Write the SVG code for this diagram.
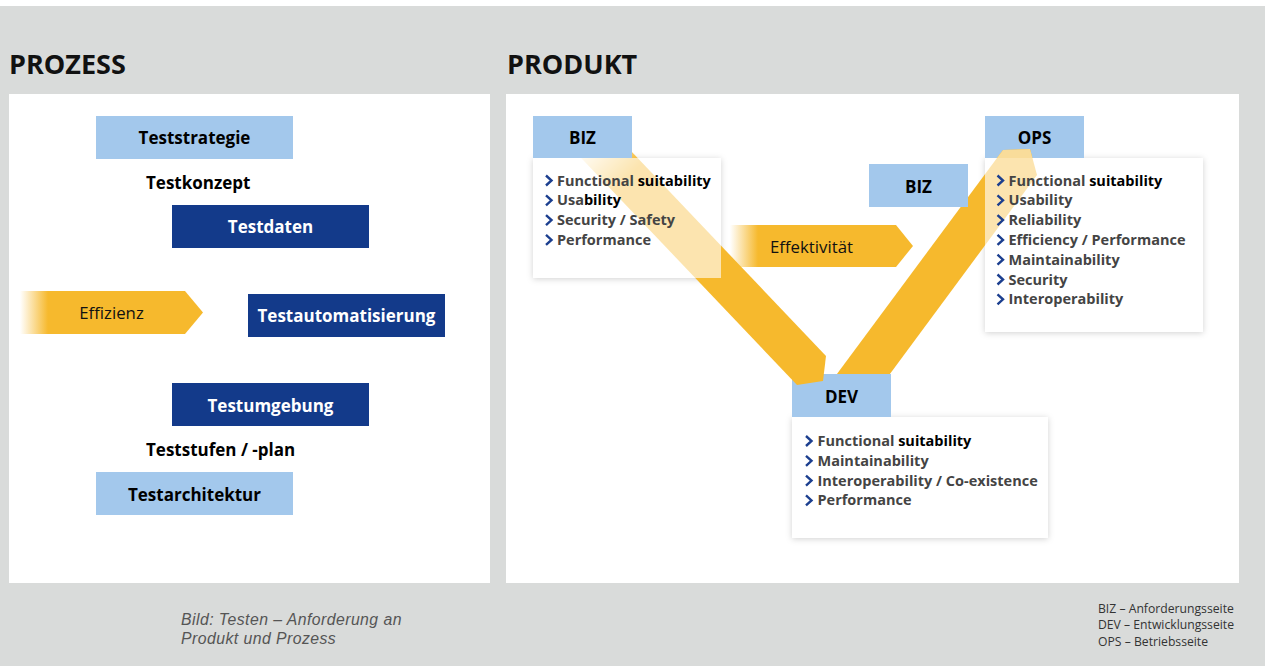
<svg xmlns="http://www.w3.org/2000/svg" width="1265" height="666" viewBox="0 0 1265 666">
<style>
.title{font-family:"Open Sans","Noto Sans",sans-serif;font-weight:700;font-size:27px;fill:#111}
.node{font-family:"Open Sans","Noto Sans",sans-serif;font-weight:700;font-size:17px;fill:#000;text-anchor:middle}
.nodew{font-family:"Open Sans","Noto Sans",sans-serif;font-weight:700;font-size:17px;fill:#fff;text-anchor:middle}
.plain{font-family:"Open Sans","Noto Sans",sans-serif;font-weight:700;font-size:17px;fill:#000}
.arrowt{font-family:"Open Sans","Noto Sans",sans-serif;font-size:16.8px;fill:#111}
.li{font-family:"Open Sans","Noto Sans",sans-serif;font-weight:700;font-size:14.5px;fill:#444}
.blk{fill:#000}
.light{fill:#a3c8ec}
.dark{fill:#133a8a}
.cap{font-family:"Liberation Sans",Arial,sans-serif;font-style:italic;font-size:15.8px;letter-spacing:0.45px;fill:#555}
.leg{font-family:"Open Sans","Noto Sans",sans-serif;font-size:12.2px;fill:#333}
.chev{fill:none;stroke:#1c3f8f;stroke-width:2.4}
.ov{fill:#fff;fill-opacity:0.62}
.card{fill:#fff;filter:url(#sh)}
</style>
<defs>
<filter id="sh" x="-10%" y="-10%" width="120%" height="130%">
<feDropShadow dx="0" dy="1" stdDeviation="3" flood-color="#000" flood-opacity="0.18"/>
</filter>
<linearGradient id="g1" gradientUnits="userSpaceOnUse" x1="20" y1="0" x2="48" y2="0">
<stop offset="0" stop-color="#f6b92d" stop-opacity="0"/>
<stop offset="1" stop-color="#f6b92d"/>
</linearGradient>
<linearGradient id="g2" gradientUnits="userSpaceOnUse" x1="730" y1="0" x2="758" y2="0">
<stop offset="0" stop-color="#f6b92d" stop-opacity="0"/>
<stop offset="1" stop-color="#f6b92d"/>
</linearGradient>
<linearGradient id="g3" gradientUnits="userSpaceOnUse" x1="580" y1="145" x2="620" y2="185">
<stop offset="0" stop-color="#f6b92d" stop-opacity="0"/>
<stop offset="1" stop-color="#f6b92d"/>
</linearGradient>
<path id="cv" class="chev" d="M0,-10 L5.5,-5 L0,0"/>
</defs>

<rect x="0" y="0" width="1265" height="666" fill="#fff"/>
<rect x="0" y="6" width="1265" height="660" fill="#d9dbda"/>
<rect x="9" y="94" width="481" height="489" fill="#fff"/>
<rect x="506" y="94" width="733" height="489" fill="#fff"/>

<text class="title" x="9" y="73.5">PROZESS</text>
<text class="title" x="507" y="73.5">PRODUKT</text>

<g id="prozess">
<g id="teststrategie"><rect class="light" x="96" y="116" width="197" height="43"/><text class="node" x="194.5" y="144">Teststrategie</text></g>
<g id="testkonzept"><text class="plain" x="146" y="188.5">Testkonzept</text></g>
<g id="testdaten"><rect class="dark" x="172" y="205" width="197" height="43"/><text class="nodew" x="270.5" y="232.5">Testdaten</text></g>
<g id="effizienz"><polygon points="20,291 185,291 203,312.5 185,334 20,334" fill="url(#g1)"/><text class="arrowt" x="111.5" y="319" text-anchor="middle">Effizienz</text></g>
<g id="testautomatisierung"><rect class="dark" x="248" y="294" width="197" height="43"/><text class="nodew" x="346.5" y="322">Testautomatisierung</text></g>
<g id="testumgebung"><rect class="dark" x="172" y="383" width="197" height="43"/><text class="nodew" x="270.5" y="411.5">Testumgebung</text></g>
<g id="teststufen"><text class="plain" x="146" y="456">Teststufen / -plan</text></g>
<g id="testarchitektur"><rect class="light" x="96" y="472" width="197" height="43"/><text class="node" x="194.5" y="500.5">Testarchitektur</text></g>
</g>

<g id="produkt">
<rect class="card" x="533" y="158" width="188" height="120"/>
<rect class="card" x="985" y="158" width="218" height="174"/>
<rect class="card" x="792" y="417" width="256" height="121"/>

<g id="effektivitaet"><polygon points="730,225 896,225 913,246 896,267 730,267" fill="url(#g2)"/><text class="arrowt" x="770" y="253">Effektivität</text></g>

<rect class="light" x="985" y="116" width="99" height="42"/>

<g id="connectors">
<polygon points="997,158 1003,150 1030,149 1037,175 884,382 831,382" fill="#f6b92d"/>
<rect class="light" x="792" y="374" width="99" height="43"/>
<polygon points="545,120 601.5,120 826,356 823,381 797,385" fill="url(#g3)"/>
</g>

<rect class="ov" x="533" y="158" width="188" height="120"/>
<rect class="ov" x="985" y="158" width="218" height="174"/>
<polygon points="997,158 1003,150 1030,149 1032.4,158" fill="#f9dc9a"/>

<g id="biz-top"><rect class="light" x="533" y="116" width="99" height="42"/><text class="node" x="582.5" y="144">BIZ</text>
<use href="#cv" x="546" y="185.5"/><text class="li" x="557" y="185.5">Functional <tspan class="blk">suitability</tspan></text>
<use href="#cv" x="546" y="205.3"/><text class="li" x="557" y="205.3">Usa<tspan class="blk">bility</tspan></text>
<use href="#cv" x="546" y="225.1"/><text class="li" x="557" y="225.1">Security / Safety</text>
<use href="#cv" x="546" y="244.9"/><text class="li" x="557" y="244.9">Performance</text>
</g>

<g id="biz-mid"><rect class="light" x="869" y="164" width="99" height="43"/><text class="node" x="918.5" y="193">BIZ</text></g>

<g id="ops"><text class="node" x="1034.5" y="143.5">OPS</text>
<use href="#cv" x="997.5" y="185.5"/><text class="li" x="1008.5" y="185.5">Functional <tspan class="blk">suitability</tspan></text>
<use href="#cv" x="997.5" y="205.3"/><text class="li" x="1008.5" y="205.3">Usability</text>
<use href="#cv" x="997.5" y="225.1"/><text class="li" x="1008.5" y="225.1">Reliability</text>
<use href="#cv" x="997.5" y="244.9"/><text class="li" x="1008.5" y="244.9">Efficiency / Performance</text>
<use href="#cv" x="997.5" y="264.7"/><text class="li" x="1008.5" y="264.7">Maintainability</text>
<use href="#cv" x="997.5" y="284.5"/><text class="li" x="1008.5" y="284.5">Security</text>
<use href="#cv" x="997.5" y="304.3"/><text class="li" x="1008.5" y="304.3">Interoperability</text>
</g>

<g id="dev"><text class="node" x="841.5" y="402.5">DEV</text>
<use href="#cv" x="806" y="446"/><text class="li" x="817.5" y="446">Functional <tspan class="blk">suitability</tspan></text>
<use href="#cv" x="806" y="465.8"/><text class="li" x="817.5" y="465.8">Maintainability</text>
<use href="#cv" x="806" y="485.6"/><text class="li" x="817.5" y="485.6">Interoperability / Co-existence</text>
<use href="#cv" x="806" y="505.4"/><text class="li" x="817.5" y="505.4">Performance</text>
</g>
</g>

<text class="cap" x="181" y="625">Bild: Testen – Anforderung an</text>
<text class="cap" x="181" y="644">Produkt und Prozess</text>

<text class="leg" x="1098" y="612.5">BIZ – Anforderungsseite</text>
<text class="leg" x="1098" y="629">DEV – Entwicklungsseite</text>
<text class="leg" x="1098" y="645.5">OPS – Betriebsseite</text>
</svg>
